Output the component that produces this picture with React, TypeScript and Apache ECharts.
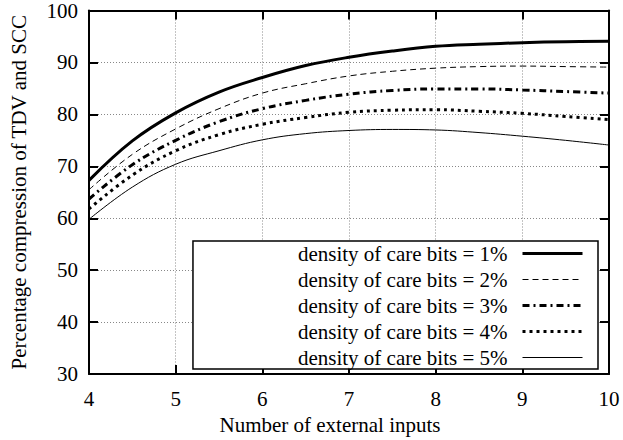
import React, { useEffect, useRef } from "react";
import * as echarts from "echarts";

const xValues = [4, 4.5, 5, 5.5, 6, 6.5, 7, 7.5, 8, 8.5, 9, 9.5, 10];
const density1 = [67.3, 74.9, 80.3, 84.3, 87.1, 89.4, 91.0, 92.2, 93.1, 93.5, 93.8, 94.0, 94.1];
const density2 = [65.5, 72.3, 77.2, 81.1, 84.1, 85.9, 87.4, 88.3, 88.9, 89.2, 89.3, 89.2, 89.1];
const density3 = [63.7, 70.3, 75.0, 78.6, 81.1, 82.7, 83.9, 84.6, 84.9, 84.9, 84.7, 84.4, 84.1];
const density4 = [61.8, 68.3, 73.0, 76.1, 78.1, 79.4, 80.4, 80.8, 80.9, 80.6, 80.2, 79.6, 79.0];
const density5 = [59.8, 66.0, 70.4, 73.0, 75.1, 76.3, 76.9, 77.1, 77.0, 76.5, 75.8, 75.0, 74.1];
const seriesNames = [
  "density of care bits = 1%",
  "density of care bits = 2%",
  "density of care bits = 3%",
  "density of care bits = 4%",
  "density of care bits = 5%",
];
const xTitle = "Number of external inputs";
const yTitle = "Percentage compression of TDV and SCC";

const FONT = "'Liberation Serif', 'Times New Roman', serif";

export default function App() {
  const ref = useRef<HTMLDivElement>(null);
  useEffect(() => {
    document.body.style.margin = "0";
    if (!ref.current) return;
    const chart = echarts.init(ref.current, null, { renderer: "svg" });
    const allData = [density1, density2, density3, density4, density5];
    const styles: any[] = [
      { width: 3, type: "solid" },
      { width: 1, type: [6, 4] },
      { width: 3, type: [7, 4, 2, 4] },
      { width: 3, type: [3, 4] },
      { width: 1, type: "solid" },
    ];
    const axisCommon = {
      type: "value",
      axisLine: { show: true, onZero: false, lineStyle: { color: "#000", width: 2 } },
      axisTick: { show: true, inside: true, length: 9, lineStyle: { color: "#000", width: 2 } },
    };
    chart.setOption({
      animation: false,
      textStyle: { fontFamily: FONT, color: "#000" },
      grid: { left: 88, right: 14, top: 9, bottom: 63 },
      xAxis: [
        {
          ...axisCommon,
          min: 4,
          max: 10,
          interval: 1,
          position: "bottom",
          name: xTitle,
          nameLocation: "middle",
          nameGap: 36,
          nameTextStyle: { fontFamily: FONT, fontSize: 21, color: "#000", padding: [0, 38, 0, 0] },
          axisLabel: { fontFamily: FONT, fontSize: 21, color: "#000", margin: 14 },
          splitLine: { show: true, lineStyle: { color: "#888", width: 1, type: [1, 2] } },
        },
        {
          ...axisCommon,
          min: 4,
          max: 10,
          interval: 1,
          position: "top",
          axisLabel: { show: false },
          splitLine: { show: false },
        },
      ],
      yAxis: [
        {
          ...axisCommon,
          min: 30,
          max: 100,
          interval: 10,
          position: "left",
          name: yTitle,
          nameLocation: "middle",
          nameGap: 60,
          nameRotate: 90,
          nameTextStyle: { fontFamily: FONT, fontSize: 21, color: "#000" },
          axisLabel: { fontFamily: FONT, fontSize: 21, color: "#000", margin: 11 },
          splitLine: { show: true, lineStyle: { color: "#888", width: 1, type: [1, 2] } },
        },
        {
          ...axisCommon,
          min: 30,
          max: 100,
          interval: 10,
          position: "right",
          axisLabel: { show: false },
          splitLine: { show: false },
        },
      ],
      legend: {
        orient: "vertical",
        right: 25,
        top: 241,
        align: "right",
        itemWidth: 60,
        itemHeight: 14,
        itemGap: 5,
        padding: [2, 14, 1, 105],
        backgroundColor: "#fff",
        borderColor: "#000",
        borderWidth: 1.5,
        borderRadius: 0,
        itemStyle: { color: "rgba(0,0,0,0)", borderWidth: 0, opacity: 0 },
        textStyle: { fontFamily: FONT, fontSize: 21, color: "#000", lineHeight: 21, padding: [0, 10, 0, 0] },
        data: seriesNames.map((n, i) => ({
          name: n,
          lineStyle: { color: "#000", width: styles[i].width, type: styles[i].type },
        })),
      },
      series: allData.map((d, i) => ({
        name: seriesNames[i],
        type: "line",
        xAxisIndex: 0,
        yAxisIndex: 0,
        smooth: 0.4,
        symbol: "none",
        showSymbol: false,
        color: "#000",
        lineStyle: { color: "#000", ...styles[i] },
        data: xValues.map((x, j) => [x, d[j]]),
        z: 3,
      })),
    });
    return () => chart.dispose();
  }, []);
  return <div ref={ref} style={{ width: 623, height: 440 }} />;
}
